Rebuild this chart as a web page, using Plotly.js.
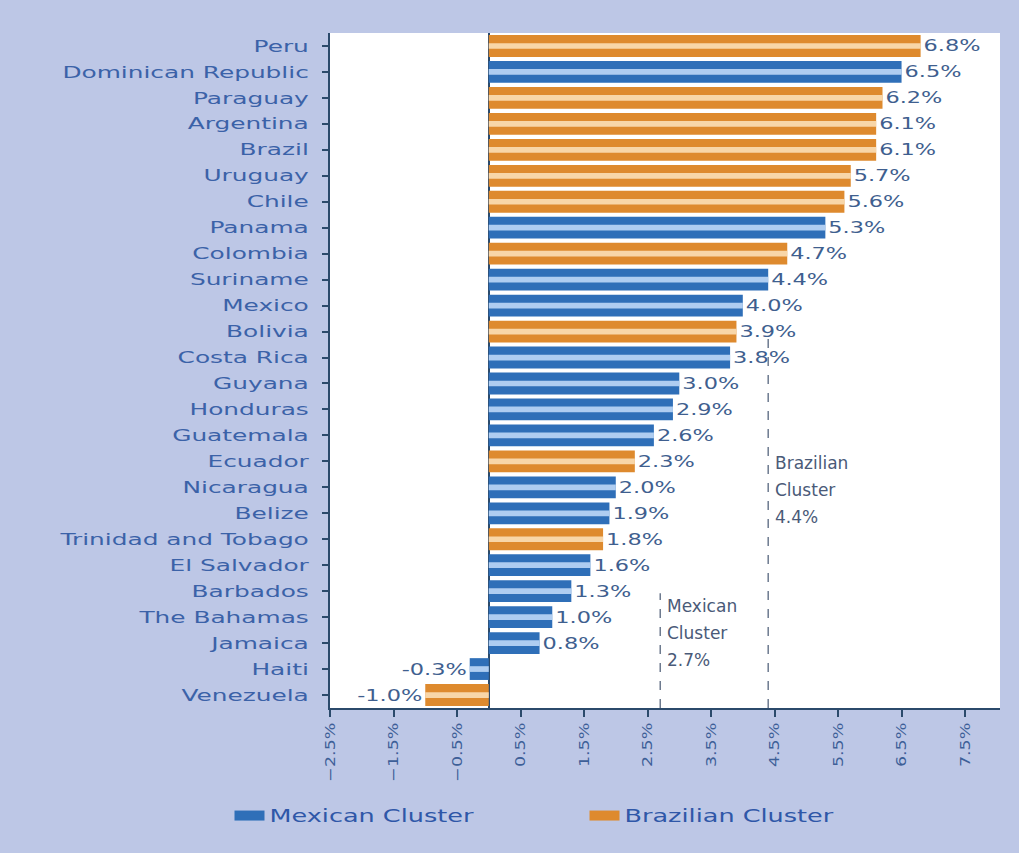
<!DOCTYPE html>
<html>
<head>
<meta charset="utf-8">
<script src="https://cdn.plot.ly/plotly-3.0.1.min.js"></script>
<style>
  html, body { margin: 0; padding: 0; background: #bdc7e6; }
  #chart { width: 1019px; height: 853px; }
</style>
</head>
<body>
<div id="chart"></div>
<script>
// Countries, top to bottom
const countries = ["Peru", "Dominican Republic", "Paraguay", "Argentina", "Brazil", "Uruguay", "Chile",
  "Panama", "Colombia", "Suriname", "Mexico", "Bolivia", "Costa Rica", "Guyana", "Honduras",
  "Guatemala", "Ecuador", "Nicaragua", "Belize", "Trinidad and Tobago", "El Salvador", "Barbados",
  "The Bahamas", "Jamaica", "Haiti", "Venezuela"];
// Growth (%)
const growth = [6.8, 6.5, 6.2, 6.1, 6.1, 5.7, 5.6,
  5.3, 4.7, 4.4, 4.0, 3.9, 3.8, 3.0, 2.9,
  2.6, 2.3, 2.0, 1.9, 1.8, 1.6, 1.3,
  1.0, 0.8, -0.3, -1.0];
// Cluster membership: M = Mexican cluster, B = Brazilian cluster
const cluster = ["B", "M", "B", "B", "B", "B", "B",
  "M", "B", "M", "M", "B", "M", "M", "M",
  "M", "B", "M", "M", "B", "M", "M",
  "M", "M", "M", "B"];
const seriesNames = {M: "Mexican Cluster", B: "Brazilian Cluster"};
const clusterWord = {M: "Mexican", B: "Brazilian"};
const xTicks = [-2.5, -1.5, -0.5, 0.5, 1.5, 2.5, 3.5, 4.5, 5.5, 6.5, 7.5];

const colors = {
  M: {main: "#2f6fb8", light: "#c6defa"},
  B: {main: "#de8a2e", light: "#fde3bd"}
};
const font = "DejaVu Sans, Verdana, sans-serif";

function pick(code) {
  const ys = [], xs = [];
  countries.forEach((c, i) => { if (cluster[i] === code) { ys.push(c); xs.push(growth[i]); } });
  return {ys, xs};
}
function avg(code) {
  const v = growth.filter((g, i) => cluster[i] === code);
  return Math.round(v.reduce((a, b) => a + b, 0) / v.length * 10) / 10;
}
function fmt(v) { return (v < 0 ? "\u2212" : "") + Math.abs(v).toFixed(1) + "%"; }

const traces = [];
["M", "B"].forEach(code => {
  const d = pick(code);
  traces.push({
    type: "bar", orientation: "h", name: seriesNames[code], showlegend: false,
    y: d.ys, x: d.xs, width: 0.84,
    marker: {color: colors[code].main, line: {width: 0}},
    text: d.xs.map(v => v.toFixed(1) + "%"),
    textposition: "outside", cliponaxis: false,
    textfont: {family: font, size: 16, color: "#3f5f8f"},
    hoverinfo: "x+y"
  });
});
["M", "B"].forEach(code => {
  const d = pick(code);
  traces.push({
    type: "bar", orientation: "h", name: seriesNames[code] + " hl",
    y: d.ys, x: d.xs, width: 0.22, showlegend: false, hoverinfo: "skip",
    marker: {color: colors[code].light, opacity: 0.85}
  });
});
// legend entries (wide band symbols)
["M", "B"].forEach(code => {
  traces.push({type: "scatter", mode: "lines", name: seriesNames[code],
    x: [null], y: [null], line: {color: colors[code].main, width: 14}, hoverinfo: "skip"});
});

const mAvg = avg("M"), bAvg = avg("B");

const annotations = [];
function clusterLabel(code, value, yTop) {
  const lines = [clusterWord[code], "Cluster", value.toFixed(1) + "%"];
  lines.forEach((t, k) => annotations.push({
    xref: "x", yref: "paper", x: value, y: yTop - k * 0.04, xanchor: "left", yanchor: "middle",
    xshift: 5, showarrow: false, text: t,
    font: {family: font, size: 17, color: "#4a5a78"}
  }));
}
clusterLabel("M", mAvg, 0.151);
clusterLabel("B", bAvg, 0.363);

const layout = {
  width: 1019, height: 853,
  paper_bgcolor: "#bdc7e6", plot_bgcolor: "#ffffff",
  margin: {l: 330, r: 19, t: 33, b: 145},
  barmode: "overlay",
  showlegend: true,
  legend: {orientation: "h", x: -0.15, xanchor: "left", y: -0.16, yanchor: "middle",
    font: {family: font, size: 17, color: "#2f57a8"}, bgcolor: "rgba(0,0,0,0)",
    entrywidth: 310, entrywidthmode: "pixels", traceorder: "normal"},
  xaxis: {
    range: [-2.5, 8.05], tickvals: xTicks, ticktext: xTicks.map(fmt),
    tickangle: -90, showgrid: false, zeroline: true, zerolinecolor: "#2b4a6b", zerolinewidth: 2,
    showline: true, linecolor: "#2b4a6b", linewidth: 2, ticks: "outside", ticklen: 7,
    tickcolor: "#2b4a6b", tickwidth: 2,
    tickfont: {family: font, size: 14, color: "#3d5f98"}
  },
  yaxis: {
    type: "category", categoryorder: "array", categoryarray: countries, autorange: "reversed",
    showline: true, linecolor: "#2b4a6b", linewidth: 2, ticks: "outside", ticklen: 6,
    tickcolor: "#2b4a6b", tickwidth: 2, showgrid: false, ticklabelstandoff: 10,
    tickfont: {family: font, size: 16, color: "#3b62a8"}
  },
  shapes: [
    {type: "line", xref: "x", yref: "paper", x0: mAvg, x1: mAvg, y0: 0, y1: 0.17, layer: "below",
      line: {color: "#6d7a8f", width: 1.5, dash: "dash"}},
    {type: "line", xref: "x", yref: "paper", x0: bAvg, x1: bAvg, y0: 0, y1: 0.55, layer: "below",
      line: {color: "#6d7a8f", width: 1.5, dash: "dash"}}
  ],
  annotations: annotations
};

// widen glyphs (the reference uses very wide lettering)
function stretch(selector, factor, mode) {
  document.querySelectorAll(selector).forEach(t => {
    if (t.getAttribute("data-stretched")) return;
    const w = t.getComputedTextLength();
    if (!w) return;
    if (mode === "bar") {
      const txt = t.textContent.trim();
      const neg = txt.charAt(0) === "-" || txt.charAt(0) === "\u2212";
      const x = parseFloat(t.getAttribute("x") || "0");
      if (neg) { t.setAttribute("text-anchor", "end"); t.setAttribute("x", x + w / 2); }
      else { t.setAttribute("text-anchor", "start"); t.setAttribute("x", x - w / 2); }
      t.querySelectorAll("tspan").forEach(s => s.removeAttribute("x"));
    }
    t.setAttribute("textLength", (w * factor).toFixed(1));
    t.setAttribute("lengthAdjust", "spacingAndGlyphs");
    t.setAttribute("data-stretched", "1");
  });
}
function stretchAll() {
  stretch("#chart .ytick text", 1.55);
  stretch("#chart .xtick text", 1.25);
  stretch("#chart .bartext", 1.4, "bar");
  stretch("#chart text.legendtext", 1.5);
  document.querySelectorAll("#chart .scrollbox").forEach(s => s.removeAttribute("clip-path"));
}

Plotly.newPlot("chart", traces, layout, {displayModeBar: false, staticPlot: true}).then(() => {
  stretchAll();
  setTimeout(stretchAll, 30);
});
</script>
</body>
</html>
